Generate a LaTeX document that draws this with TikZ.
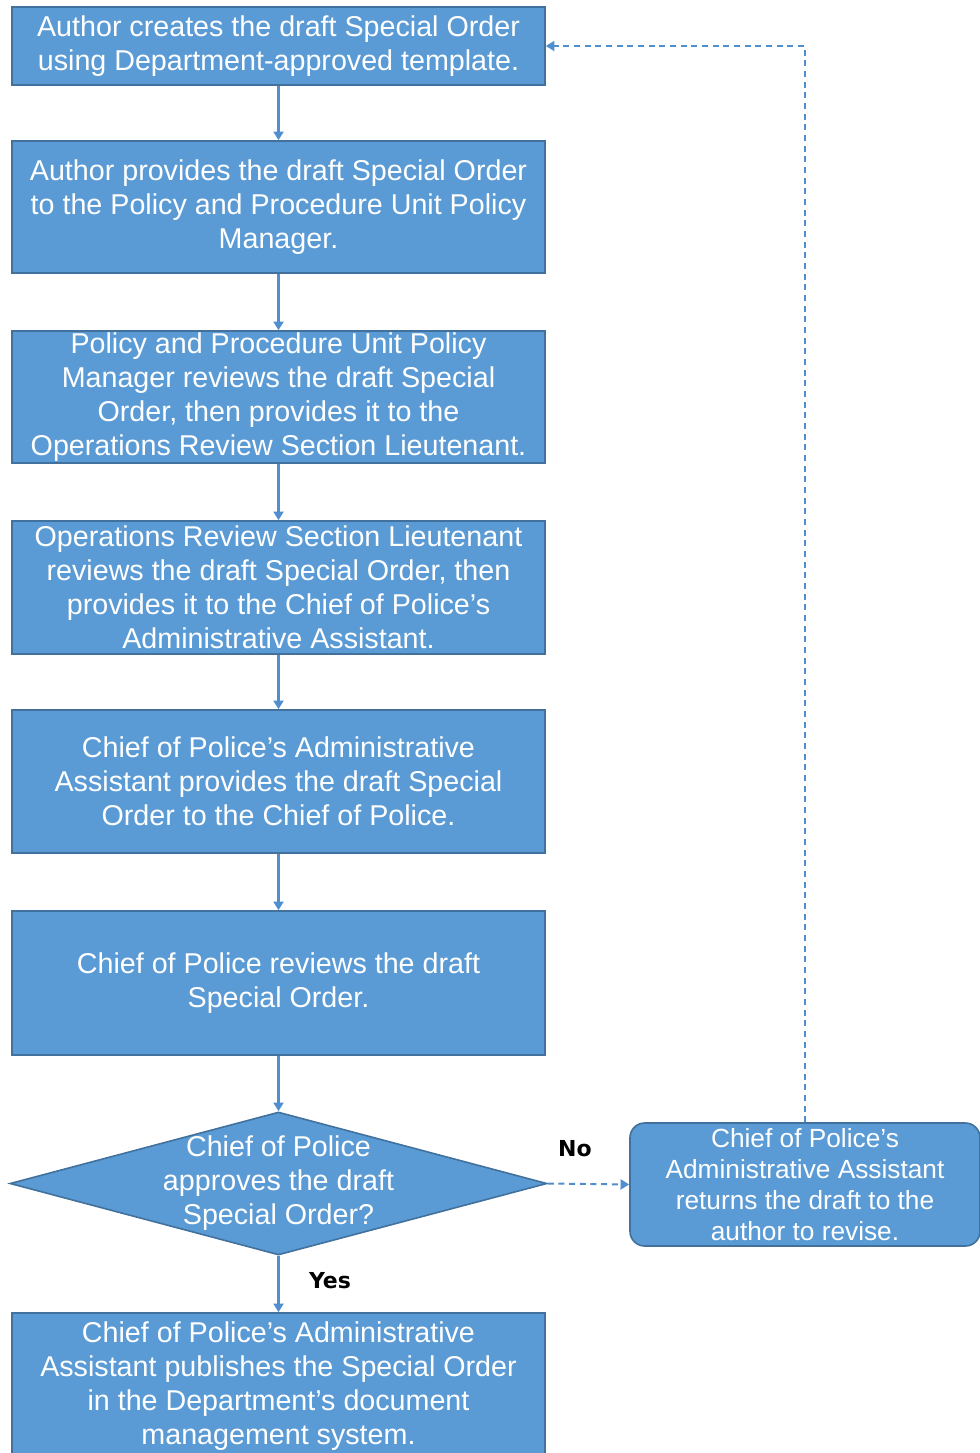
\documentclass[tikz,border=0pt]{standalone}
\usepackage{fontspec}
\setmainfont{Liberation Sans}
\newfontfamily\labfont{DejaVu Sans}
\usetikzlibrary{arrows.meta,shapes.geometric}
\definecolor{boxfill}{HTML}{5B9BD5}
\definecolor{boxline}{HTML}{41719C}
\definecolor{arrowc}{HTML}{4F8FD0}
\begin{document}
\begin{tikzpicture}[x=0.75pt,y=-0.75pt,
  stepbox/.style={draw=boxline, fill=boxfill, line width=1.2pt, text=white, align=center,
    inner sep=0pt, minimum width=533*0.75pt, font=\fontsize{21.5}{25.5}\selectfont},
  dia/.style={diamond, draw=boxline, fill=boxfill, line width=1.2pt, inner sep=0pt},
  diatext/.style={text=white, align=center, inner sep=0pt, font=\fontsize{21.5}{25.5}\selectfont},
  sidebox/.style={draw=boxline, fill=boxfill, line width=1.2pt, text=white, align=center,
    rounded corners=11pt, inner sep=0pt, minimum width=350*0.75pt, minimum height=123*0.75pt,
    font=\fontsize{19.7}{23.3}\selectfont},
  lab/.style={text=black, inner sep=0pt, font=\labfont\bfseries\fontsize{16.5}{19}\selectfont},
  flow/.style={draw=arrowc, line width=1.9pt, -{Triangle[width=7.5pt,length=6.5pt]}},
  back/.style={draw=arrowc, line width=1.5pt, dash pattern=on 4.5pt off 3.5pt, -{Triangle[width=7.5pt,length=6.5pt]}}
]
\useasboundingbox (0,0) rectangle (979,1453);
\node[stepbox, minimum height=78*0.75pt] (b1) at (278.5,46)
  {Author creates the draft Special Order\\using Department-approved template.};
\node[stepbox, minimum height=132*0.75pt] (b2) at (278.5,207)
  {Author provides the draft Special Order\\to the Policy and Procedure Unit Policy\\Manager.};
\node[stepbox, minimum height=132*0.75pt] (b3) at (278.5,397)
  {Policy and Procedure Unit Policy\\Manager reviews the draft Special\\Order, then provides it to the\\Operations Review Section Lieutenant.};
\node[stepbox, minimum height=133*0.75pt] (b4) at (278.5,587.5)
  {Operations Review Section Lieutenant\\reviews the draft Special Order, then\\provides it to the Chief of Police’s\\Administrative Assistant.};
\node[stepbox, minimum height=143*0.75pt] (b5) at (278.5,781.5)
  {Chief of Police’s Administrative\\Assistant provides the draft Special\\Order to the Chief of Police.};
\node[stepbox, minimum height=144*0.75pt] (b6) at (278.5,983)
  {Chief of Police reviews the draft\\Special Order.};
\node[dia, minimum width=537*0.75pt, minimum height=143*0.75pt] (d) at (278.5,1183.5) {};
\node[diatext] (dt) at (d.center) {Chief of Police\\approves the draft\\Special Order?};
\node[stepbox, minimum height=147*0.75pt] (b8) at (278.5,1386.5)
  {Chief of Police’s Administrative\\Assistant publishes the Special Order\\in the Department’s document\\management system.};
\node[sidebox] (r) at (805,1184.5)
  {Chief of Police’s\\Administrative Assistant\\returns the draft to the\\author to revise.};
\node[lab] (no) at (575,1149) {No};
\node[lab] (yes) at (330,1281) {Yes};
\draw[flow] (b1.south) -- (b2.north);
\draw[flow] (b2.south) -- (b3.north);
\draw[flow] (b3.south) -- (b4.north);
\draw[flow] (b4.south) -- (b5.north);
\draw[flow] (b5.south) -- (b6.north);
\draw[flow] (b6.south) -- (d.north);
\draw[flow] (d.south) -- (b8.north);
\draw[back] (d.east) -- (r.west);
\draw[back] (r.north) |- (b1.east);
\end{tikzpicture}
\end{document}
